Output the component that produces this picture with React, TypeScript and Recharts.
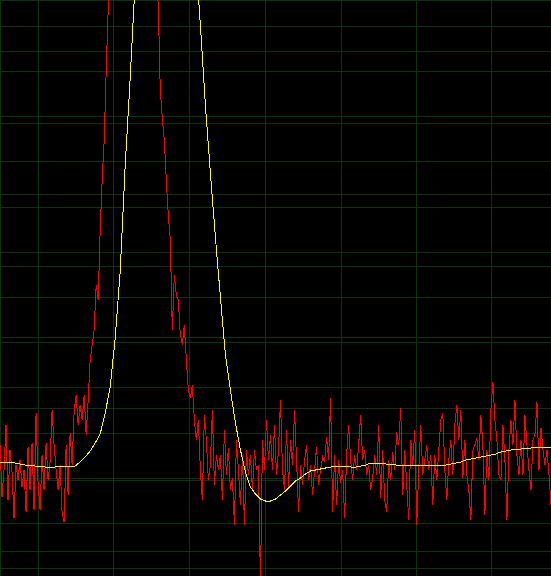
import { LineChart, Line, XAxis, YAxis, CartesianGrid } from 'recharts';

// raw spectrum, one reading every 2 units
const rawLevels = [
  131, 79, 106, 151, 76, 126, 104, 58, 111, 96, 116, 89, 106, 64, 129, 86, 133, 66, 163, 93,
  66, 121, 86, 133, 96, 114, 166, 131, 106, 86, 111, 63, 54, 131, 81, 143, 111, 164, 181, 151,
  171, 156, 181, 141, 176, 216, 231, 246, 291, 276, 346, 396, 436, 506, 566, 616, 676, 726, 766, 796,
  821, 836, 846, 851, 854, 856, 856, 854, 848, 838, 826, 808, 786, 761, 731, 696, 661, 631, 601, 571,
  486, 458, 436, 396, 361, 336, 246, 301, 281, 276, 241, 231, 251, 216, 186, 178, 191, 156, 136, 156,
  106, 76, 161, 136, 96, 111, 166, 91, 121, 106, 121, 76, 146, 101, 128, 86, 98, 51, 136, 106,
  71, 121, 51, 126, 101, 121, 86, 126, 106, 111, -8, 136, 106, 156, 116, 141, 106, 151, 101, 126,
  176, 106, 86, 146, 89, 136, 111, 166, 116, 64, 111, 91, 116, 131, 96, 111, 81, 106, 129, 91,
  106, 119, 114, 139, 116, 178, 64, 121, 71, 116, 93, 106, 58, 121, 151, 116, 96, 121, 106, 131,
  161, 116, 126, 101, 111, 86, 98, 121, 101, 151, 78, 126, 76, 64, 116, 96, 124, 106, 144, 131,
  168, 81, 126, 91, 56, 136, 111, 146, 51, 106, 151, 101, 116, 131, 106, 121, 71, 121, 96, 126,
  156, 163, 106, 76, 116, 136, 101, 151, 171, 136, 166, 98, 136, 101, 86, 56, 126, 131, 138, 116,
  161, 131, 61, 126, 96, 166, 194, 156, 136, 101, 96, 151, 116, 56, 126, 156, 131, 176, 121, 101,
  136, 101, 161, 131, 106, 86, 136, 141, 174, 106, 148, 126, 111, 126, 101, 71,
];

// smoothed spectrum, one reading every 5 units
const smoothLevels = [
  114, 114, 114, 113, 112, 111, 111, 110, 110, 109, 109, 109, 110, 110, 110, 110, 114, 119, 125, 133,
  142, 163, 189, 238, 305, 411, 499, 596, 686, 766, 826, 866, 886, 891, 881, 856, 816, 761, 696, 626,
  551, 471, 403, 339, 279, 221, 186, 153, 126, 104, 89, 82, 77, 75, 75, 77, 81, 85, 90, 95,
  98, 102, 105, 106, 107, 108, 109, 110, 110, 110, 109, 109, 110, 111, 113, 113, 113, 112, 112, 111,
  111, 111, 111, 111, 111, 111, 111, 111, 111, 111, 112, 113, 114, 116, 117, 118, 119, 120, 121, 122,
  124, 125, 126, 127, 127, 128, 128, 129, 129, 129, 129,
];

const freqTicks = [38, 113, 189, 265, 341, 416, 491];
const levelTicksA = [8, 53, 98, 143, 189, 234, 279, 324, 369, 415, 460, 505, 550];
const levelTicksB = [25, 96, 168, 239, 310, 382, 453, 525];

const rawData = rawLevels.map((v, i) => ({ f: i * 2, v }));
const smoothData = smoothLevels.map((v, i) => ({ f: i * 5, v }));

export default function App() {
  return (
    <div style={{ position: 'absolute', left: 0, top: 0, width: 551, height: 576, background: '#000' }}>
      <LineChart width={551} height={576} margin={{ top: 0, right: 0, bottom: 0, left: 0 }}>
        <XAxis dataKey="f" type="number" domain={[0, 550]} ticks={freqTicks} interval={0} hide allowDataOverflow />
        <YAxis yAxisId="a" type="number" domain={[0, 576]} ticks={levelTicksA} interval={0} hide allowDataOverflow />
        <YAxis yAxisId="b" type="number" domain={[0, 576]} ticks={levelTicksB} interval={0} hide allowDataOverflow />
        <CartesianGrid yAxisId="a" stroke="#0b360b" strokeWidth={1} shapeRendering="crispEdges" />
        <CartesianGrid yAxisId="b" stroke="#0b360b" strokeWidth={1} vertical={false} shapeRendering="crispEdges" />
        <Line
          yAxisId="a"
          data={rawData}
          dataKey="v"
          type="linear"
          stroke="#ff0000"
          strokeWidth={1}
          shapeRendering="crispEdges"
          dot={false}
          activeDot={false}
          isAnimationActive={false}
        />
        <Line
          yAxisId="a"
          data={smoothData}
          dataKey="v"
          type="linear"
          stroke="#ffff00"
          strokeWidth={1}
          shapeRendering="crispEdges"
          dot={false}
          activeDot={false}
          isAnimationActive={false}
        />
      </LineChart>
    </div>
  );
}
